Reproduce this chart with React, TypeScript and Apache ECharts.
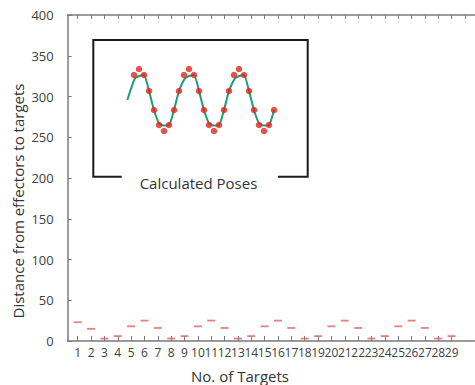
import React, { useEffect, useRef } from "react";
import * as echarts from "echarts";

// Main chart data: median distance per target
const targets = [1,2,3,4,5,6,7,8,9,10,11,12,13,14,15,16,17,18,19,20,21,22,23,24,25,26,27,28,29];
const distances = [23,15,3,6,18,25,16,3,6,18,25,16,3,6,18,25,16,3,6,18,25,16,3,6,18,25,16,3,6];
const xTickValues = [1,2,3,4,5,6,7,8,9,10,11,12,13,14,15,16,17,18,19,20,21,22,23,24,25,26,27,28,29,30];

// Inset ("Calculated Poses") data
const poseIndex = [0,1,2,3,4,5,6,7,8,9,10,11,12,13,14,15,16,17,18,19,20,21,22,23,24,25,26,27,28];
const poseValues = [56,62,56,40,21,6,0,6,21,40,56,62,56,40,21,6,0,6,21,40,56,62,56,40,21,6,0,6,21];
const fitX = [-1.33,0.2,1.2,2,3,4,5,6,7,8,9,10.2,11.2,12,13,14,15,16,17,18,19,20.2,21.2,22,23,24,25,26,27,28];
const fitY = [31,52.7,55.3,56,40,21,7.7,5.5,6,21,40,52.7,55.3,56,40,21,7.7,5.5,6,21,40,52.7,55.3,56,40,21,7.7,5.5,6,21];

const FONT = "Open Sans";

export default function App() {
  const ref = useRef<HTMLDivElement>(null);
  useEffect(() => {
    const chart = echarts.init(ref.current!, null, { renderer: "svg" });
    const axisColor = "#7a7a7a";
    chart.setOption({
      animation: false,
      backgroundColor: "#ffffff",
      grid: [
        { left: 67.7, top: 15, right: -24, bottom: 44 },
        { left: 124, top: 69, width: 155, height: 62 },
      ],
      xAxis: [
        {
          type: "value",
          gridIndex: 0,
          min: 0.25,
          max: 30.75,
          position: "bottom",
          axisLine: { show: true, lineStyle: { color: axisColor, width: 1.5 } },
          axisTick: { show: true, inside: true, length: 5, customValues: xTickValues, lineStyle: { color: axisColor, width: 1 } },
          axisLabel: { customValues: xTickValues, color: "#404040", fontSize: 12, fontFamily: FONT, margin: 5 },
          splitLine: { show: false },
        },
        {
          type: "value",
          gridIndex: 0,
          min: 0.25,
          max: 30.75,
          position: "top",
          axisLine: { show: true, lineStyle: { color: axisColor, width: 1.5 } },
          axisTick: { show: true, inside: true, length: 4, customValues: xTickValues, lineStyle: { color: axisColor, width: 1 } },
          axisLabel: { show: false },
          splitLine: { show: false },
        },
        { type: "value", gridIndex: 1, min: -2, max: 29, show: false },
      ],
      yAxis: [
        {
          type: "value",
          gridIndex: 0,
          min: 0,
          max: 400,
          interval: 50,
          axisLine: { show: true, lineStyle: { color: axisColor, width: 1.5 } },
          axisTick: { show: true, inside: true, length: 4, lineStyle: { color: axisColor, width: 1 } },
          axisLabel: { color: "#404040", fontSize: 13, fontFamily: FONT, margin: 14 },
          splitLine: { show: false },
        },
        { type: "value", gridIndex: 1, min: 0, max: 62, show: false },
      ],
      series: [
        {
          type: "scatter",
          xAxisIndex: 0,
          yAxisIndex: 0,
          data: targets.map((t, i) => [t, distances[i]]),
          symbol: "rect",
          symbolSize: [8, 1.8],
          itemStyle: { color: "#e06262" },
          clip: false,
          z: 5,
        },
        {
          type: "line",
          xAxisIndex: 2,
          yAxisIndex: 1,
          data: fitX.map((x, i) => [x, fitY[i]]),
          showSymbol: false,
          smooth: 0.2,
          lineStyle: { color: "#1f9e6e", width: 2 },
          clip: false,
          z: 3,
        },
        {
          type: "scatter",
          xAxisIndex: 2,
          yAxisIndex: 1,
          data: poseIndex.map((x, i) => [x, poseValues[i]]),
          symbol: "circle",
          symbolSize: 6.5,
          itemStyle: { color: "#e3241f" },
          clip: false,
          z: 4,
        },
      ],
      graphic: [
        {
          type: "polyline",
          shape: {
            points: [[121.7, 176.7], [93.3, 176.7], [93.3, 40], [307.7, 40], [307.7, 176.7], [278, 176.7]],
          },
          style: { stroke: "#1a1a1a", lineWidth: 2, fill: null },
        },
        {
          type: "text",
          x: 198.5,
          y: 183,
          style: {
            text: "Calculated Poses",
            fill: "#333333",
            font: `15px "${FONT}"`,
            textAlign: "center",
            textVerticalAlign: "middle",
          },
        },
        {
          type: "text",
          x: 18,
          y: 201,
          rotation: Math.PI / 2,
          style: {
            text: "Distance from effectors to targets",
            fill: "#333333",
            font: `15px "${FONT}"`,
            textAlign: "center",
            textVerticalAlign: "middle",
          },
        },
        {
          type: "text",
          x: 240,
          y: 375.5,
          style: {
            text: "No. of Targets",
            fill: "#333333",
            font: `15px "${FONT}"`,
            textAlign: "center",
            textVerticalAlign: "middle",
          },
        },
      ],
    });
    return () => chart.dispose();
  }, []);
  return <div ref={ref} style={{ width: 475, height: 385, position: "absolute", left: 0, top: 0 }} />;
}
